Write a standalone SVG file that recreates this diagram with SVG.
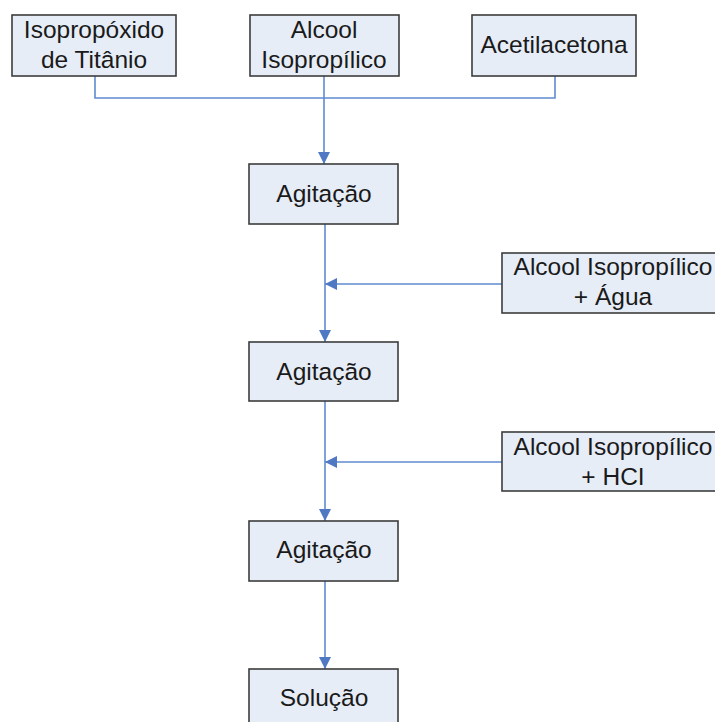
<svg xmlns="http://www.w3.org/2000/svg" width="715" height="722" viewBox="0 0 715 722">
<style>
.box{fill:#e6edf7;stroke:#3c3c3c;stroke-width:1.6}
.t{font-family:"Liberation Sans",Arial,sans-serif;font-size:24.5px;fill:#1a1a1a;text-anchor:middle}
.c{fill:none;stroke:#5f8bcf;stroke-width:1.6}
</style>
<defs>
<marker id="ah" viewBox="0 0 10 10" refX="10" refY="5" markerWidth="12" markerHeight="12" markerUnits="userSpaceOnUse" orient="auto">
<path d="M0,0 L10,5 L0,10 z" fill="#5079c4"/>
</marker>
</defs>
<rect width="715" height="722" fill="#ffffff"/>
<g id="connectors">
<path class="c" d="M95,76 V98 H555 V76"/>
<path class="c" d="M324,76 V164" marker-end="url(#ah)"/>
<path class="c" d="M325,224 V342" marker-end="url(#ah)"/>
<path class="c" d="M502,284 H325" marker-end="url(#ah)"/>
<path class="c" d="M325,401 V521" marker-end="url(#ah)"/>
<path class="c" d="M502,462 H325" marker-end="url(#ah)"/>
<path class="c" d="M325,581 V669" marker-end="url(#ah)"/>
</g>
<g id="n1"><rect class="box" x="12" y="15" width="164" height="61"/><text class="t" x="94" y="38">Isopropóxido</text><text class="t" x="94" y="68">de Titânio</text></g>
<g id="n2"><rect class="box" x="250" y="15" width="149" height="61"/><text class="t" x="324" y="38">Alcool</text><text class="t" x="324" y="68">Isopropílico</text></g>
<g id="n3"><rect class="box" x="472" y="15" width="164" height="61"/><text class="t" x="554" y="53">Acetilacetona</text></g>
<g id="n4"><rect class="box" x="249" y="164" width="149" height="60"/><text class="t" x="324" y="202">Agitação</text></g>
<g id="n5"><rect class="box" x="502" y="253" width="222" height="60"/><text class="t" x="613" y="275">Alcool Isopropílico</text><text class="t" x="613" y="305">+ Água</text></g>
<g id="n6"><rect class="box" x="249" y="342" width="149" height="59"/><text class="t" x="324" y="380">Agitação</text></g>
<g id="n7"><rect class="box" x="502" y="432" width="222" height="59"/><text class="t" x="613" y="455">Alcool Isopropílico</text><text class="t" x="613" y="485">+ HCI</text></g>
<g id="n8"><rect class="box" x="249" y="521" width="149" height="60"/><text class="t" x="324" y="558">Agitação</text></g>
<g id="n9"><rect class="box" x="249" y="669" width="149" height="60"/><text class="t" x="324" y="706">Solução</text></g>
</svg>
